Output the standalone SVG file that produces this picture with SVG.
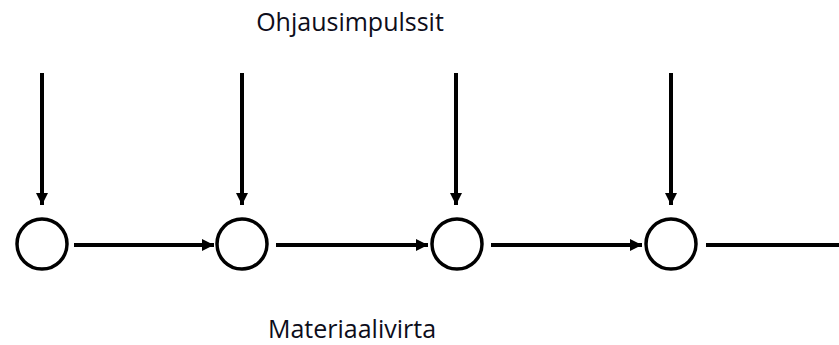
<svg xmlns="http://www.w3.org/2000/svg" width="839" height="345" viewBox="0 0 839 345">
  <style>
    .node { fill: #ffffff; stroke: #000000; stroke-width: 3.5; }
    .edge { stroke: #000000; stroke-width: 4; fill: none; }
    .label { font-family: "Open Sans", "Noto Sans", sans-serif; font-size: 25px; fill: #0d0d1a; text-anchor: middle; }
  </style>
  <defs>
    <marker id="arrow" viewBox="0 0 10 10" refX="10" refY="5" markerUnits="userSpaceOnUse" markerWidth="12" markerHeight="19" orient="auto">
      <path d="M0,0 L10,5 L0,10 z" fill="#000000"/>
    </marker>
  </defs>
  <rect width="839" height="345" fill="#ffffff"/>

  <g id="connectors">
    <!-- control impulses -->
    <line class="edge" x1="42" y1="73" x2="42" y2="205" marker-end="url(#arrow)"/>
    <line class="edge" x1="242" y1="73" x2="242" y2="205" marker-end="url(#arrow)"/>
    <line class="edge" x1="456" y1="73" x2="456" y2="205" marker-end="url(#arrow)"/>
    <line class="edge" x1="671" y1="73" x2="671" y2="205" marker-end="url(#arrow)"/>
    <!-- material flow -->
    <line class="edge" x1="74" y1="245" x2="214" y2="245" marker-end="url(#arrow)"/>
    <line class="edge" x1="276" y1="245" x2="428" y2="245" marker-end="url(#arrow)"/>
    <line class="edge" x1="491" y1="245" x2="642" y2="245" marker-end="url(#arrow)"/>
    <line class="edge" x1="706" y1="245" x2="839" y2="245"/>
  </g>

  <g id="node1"><circle class="node" cx="42" cy="244" r="25"/></g>
  <g id="node2"><circle class="node" cx="242" cy="244" r="25"/></g>
  <g id="node3"><circle class="node" cx="457" cy="244" r="25"/></g>
  <g id="node4"><circle class="node" cx="671" cy="244" r="25"/></g>

  <g id="label-control"><text class="label" x="350" y="31">Ohjausimpulssit</text></g>
  <g id="label-material"><text class="label" x="352" y="338">Materiaalivirta</text></g>
</svg>
